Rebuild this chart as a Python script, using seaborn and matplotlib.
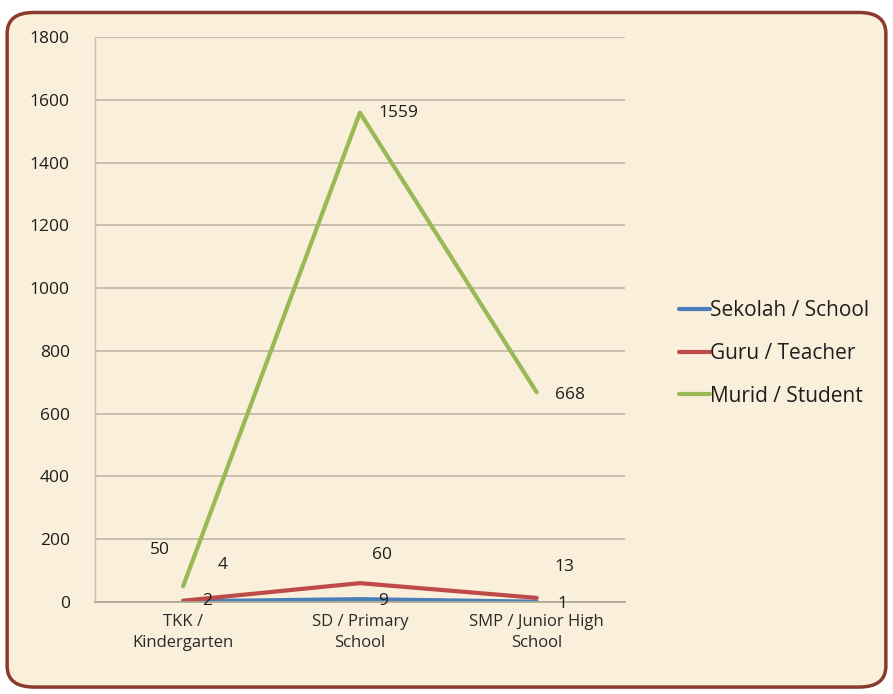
import matplotlib
matplotlib.use("Agg")
import matplotlib.pyplot as plt
import seaborn as sns
import pandas as pd
from matplotlib.patches import FancyBboxPatch

categories = ["TKK /\nKindergarten", "SD / Primary\nSchool", "SMP / Junior High\nSchool"]
sekolah = [2, 9, 1]
guru = [4, 60, 13]
murid = [50, 1559, 668]
series_names = ["Sekolah / School", "Guru / Teacher", "Murid / Student"]
colors = ["#4a7ebb", "#be4b48", "#98b954"]
yticks = [0, 200, 400, 600, 800, 1000, 1200, 1400, 1600, 1800]

rows = []
for name, vals in zip(series_names, [sekolah, guru, murid]):
    for i, v in enumerate(vals):
        rows.append({"x": i, "value": v, "series": name})
df = pd.DataFrame(rows)

sns.set_theme(style="white")
plt.rcParams["font.family"] = ["Open Sans", "DejaVu Sans"]
bg = "#f9efda"
fig = plt.figure(figsize=(8.93, 6.94), dpi=100)
fig.patch.set_facecolor("white")
frame = FancyBboxPatch((0.008, 0.01), 0.984, 0.972, boxstyle="round,pad=0,rounding_size=0.03",
                       transform=fig.transFigure, facecolor=bg, edgecolor="#8b3a2e", linewidth=2.5,
                       zorder=-10)
fig.patches.append(frame)

ax = fig.add_axes([0.106, 0.1326, 0.594, 0.8141])
ax.set_zorder(5)
ax.set_facecolor("none")
sns.lineplot(data=df, x="x", y="value", hue="series", palette=colors, hue_order=series_names,
             linewidth=3, ax=ax, legend=True)
ax.set_xlim(-0.5, 2.5)
ax.set_ylim(0, 1800)
ax.set_yticks(yticks)
ax.set_yticklabels([str(t) for t in yticks], fontsize=12.5, color="#1e1e1e")
ax.set_xticks(range(3))
ax.set_xticklabels(categories, fontsize=12, color="#2a2a2a", linespacing=1.4)
ax.set_xlabel("")
ax.set_ylabel("")
ax.grid(axis="y", color="#bdb5a6", linewidth=1.2)
ax.set_axisbelow(True)
for s in ["top", "right"]:
    ax.spines[s].set_visible(False)
ax.spines["left"].set_color("#c8c0b0")
ax.spines["bottom"].set_color("#b0a898")
ax.spines["left"].set_linewidth(1)
ax.tick_params(axis="y", length=0, pad=18)
ax.tick_params(axis="x", length=0, pad=9)

# data labels (offsets in points from each data point)
offsets = {
    "Sekolah / School": [(14, 0), (13, -1), (15, -2)],
    "Guru / Teacher": [(25, 26), (9, 20), (13, 22)],
    "Murid / Student": [(-24, 26), (13, 0), (13, -2)],
}
for name, vals in zip(series_names, [sekolah, guru, murid]):
    for i, v in enumerate(vals):
        dx, dy = offsets[name][i]
        ax.annotate(str(v), (i, v), xytext=(dx, dy), textcoords="offset points",
                    ha="left", va="center", fontsize=12.5, color="#1e1e1e")

leg = ax.legend(handles=ax.get_legend().legend_handles, labels=series_names,
                loc="center left", bbox_to_anchor=(1.066, 0.44), frameon=False,
                fontsize=15, handlelength=1.5, handletextpad=0.0, labelspacing=1.05)
for t in leg.get_texts():
    t.set_color("#1e1e1e")

fig.savefig("out.png", dpi=100, facecolor=fig.get_facecolor())
